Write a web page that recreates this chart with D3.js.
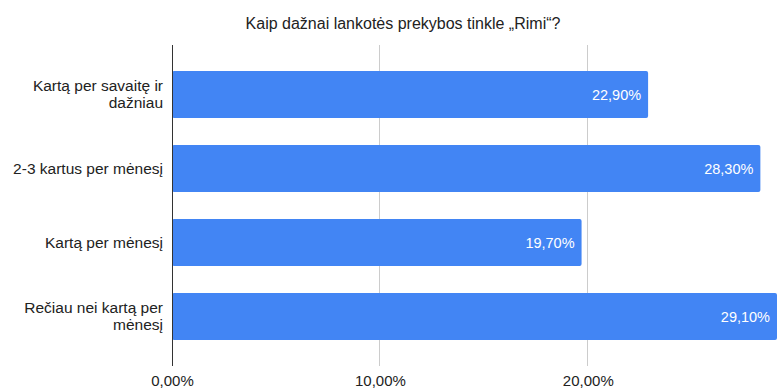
<!DOCTYPE html>
<html><head><meta charset="utf-8">
<script src="https://cdn.jsdelivr.net/npm/d3@7"></script>
<style>body{margin:0;background:#fff}svg{display:block;font-family:"Liberation Sans",Arial,sans-serif}</style>
</head><body>
<script>
const title = "Kaip dažnai lankotės prekybos tinkle „Rimi“?";
const categories = [["Kartą per savaitę ir","dažniau"],["2-3 kartus per mėnesį"],["Kartą per mėnesį"],["Rečiau nei kartą per","mėnesį"]];
const values = [22.9, 28.3, 19.7, 29.1];
const valueLabels = ["22,90%","28,30%","19,70%","29,10%"];
const ticks = [0, 10, 20];
const tickLabels = ["0,00%","10,00%","20,00%"];

const W = 781, H = 389;
const svg = d3.select("body").append("svg").attr("width", W).attr("height", H);
const x = d3.scaleLinear().domain([0, 29.1]).range([172, 777]);
const y = d3.scaleBand().domain(d3.range(categories.length)).range([57.5, 353.5]).paddingInner(0.365).paddingOuter(0.1825);
const plotTop = 45, plotBottom = 366;

svg.append("text").attr("x", 403).attr("y", 29).attr("text-anchor","middle")
  .attr("font-size", 16).attr("fill","#222").text(title);

// gridlines
svg.append("g").selectAll("line").data(ticks.slice(1)).join("line")
  .attr("x1", d=>x(d)).attr("x2", d=>x(d)).attr("y1", plotTop).attr("y2", plotBottom)
  .attr("stroke","#cccccc").attr("stroke-width",1).attr("shape-rendering","crispEdges");

// bars
svg.append("g").selectAll("rect").data(values).join("rect")
  .attr("x", x(0)).attr("y", (d,i)=>y(i)).attr("width", d=>x(d)-x(0)).attr("height", y.bandwidth())
  .attr("rx", 2).attr("fill", "#4285f4");

// axis line
svg.append("line").attr("x1", x(0)).attr("x2", x(0)).attr("y1", plotTop).attr("y2", plotBottom)
  .attr("stroke","#333").attr("stroke-width",1).attr("shape-rendering","crispEdges");

// value labels
svg.append("g").selectAll("text").data(values).join("text")
  .attr("x", d=>x(d)-7).attr("y", (d,i)=>y(i)+y.bandwidth()/2).attr("dy","0.35em")
  .attr("text-anchor","end").attr("font-size",14.5).attr("fill","#fff")
  .text((d,i)=>valueLabels[i]);

// category labels
const cg = svg.append("g").selectAll("text").data(categories).join("text")
  .attr("text-anchor","end").attr("font-size",15.5).attr("fill","#222")
  .attr("y", (d,i)=>y(i)+y.bandwidth()/2);
cg.each(function(lines){
  const t = d3.select(this);
  const n = lines.length, lh = 17;
  lines.forEach((l,j)=>{
    t.append("tspan").attr("x", 163).attr("dy", j===0 ? ((-(n-1)*lh/2)/15.5+0.35)+"em" : lh+"px").text(l);
  });
});

// x tick labels
const xAxis = d3.axisBottom(x).tickValues(ticks).tickSize(0).tickFormat((d,i)=>tickLabels[i]);
const ax = svg.append("g").attr("transform", `translate(0,${plotBottom})`).call(xAxis);
ax.select(".domain").remove();
ax.selectAll("text").attr("font-size",15).attr("fill","#222").attr("font-family","Liberation Sans, Arial, sans-serif").attr("dy",null).attr("y",20);
</script>
</body></html>
